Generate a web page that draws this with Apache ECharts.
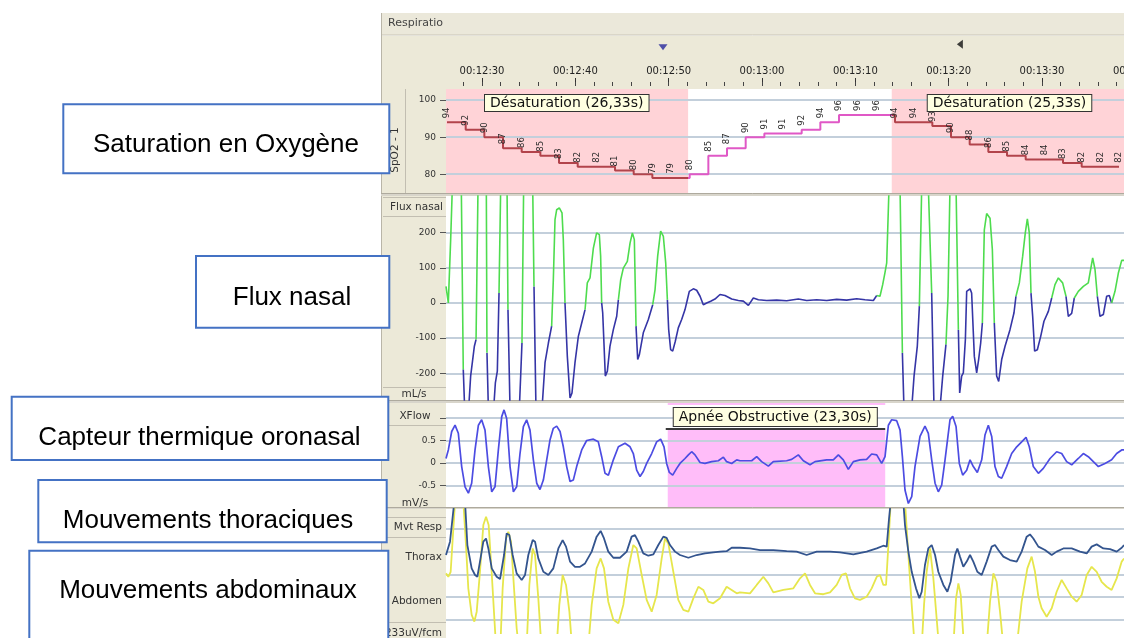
<!DOCTYPE html>
<html>
<head>
<meta charset="utf-8">
<script src="https://cdn.jsdelivr.net/npm/echarts@6/dist/echarts.min.js"></script>
<style>
  html, body { margin: 0; padding: 0; background: #ffffff; }
  #chart { width: 1124px; height: 638px; }
</style>
</head>
<body>
<div id="chart"></div>
<script>
// ---------------------------------------------------------------
// Recording window (seconds since 00:00:00)
// ---------------------------------------------------------------
const timeStart = 746.14;
const timeEnd = 822.0;
const rulerTicks = [750, 760, 770, 780, 790, 800, 810, 820];
const markerTimes = [769.39, 801.2];

// SpO2 samples (%), one reading every 2 s
const spo2Times = [746.25, 748.25, 750.25, 752.25, 754.25, 756.25, 758.25, 760.25, 762.25, 764.25,
  766.25, 768.25, 770.25, 772.25, 774.25, 776.25, 778.25, 780.25, 782.25, 784.25,
  786.25, 788.25, 790.25, 792.25, 794.25, 796.25, 798.25, 800.25, 802.25, 804.25,
  806.25, 808.25, 810.25, 812.25, 814.25, 816.25, 818.25];
const spo2Values = [94, 92, 90, 87, 86, 85, 83, 82, 82, 81,
  80, 79, 79, 80, 85, 87, 90, 91, 91, 92,
  94, 96, 96, 96, 94, 94, 93, 90, 88, 86,
  85, 84, 84, 83, 82, 82, 82];
const spo2Ticks = [80, 90, 100];

// Scored events
const desatStart = [745.75, 793.9];
const desatDuration = [26.33, 25.33];
const apneaStart = 769.9;
const apneaDuration = 23.30;

// Nasal flow (mL/s): [time, value, phase]  phase g = inspiration, b = expiration
const fluxBreathsBefore = [
  [746.14, 47, 'g'], [746.39, 0, 'g'], [746.64, 180, 'g'], [746.82, 330, 'g'], [747.28, 420, 'g'], [747.78, 330, 'g'],
  [747.99, -189, 'b'], [748.14, -300, 'b'], [748.36, -380, 'b'], [748.57, -300, 'b'], [748.78, -208, 'b'], [749.18, -123, 'b'],
  [749.36, -104, 'g'], [749.57, 330, 'g'], [750.03, 420, 'g'], [750.46, 330, 'g'],
  [750.53, -142, 'b'], [750.68, -300, 'b'], [750.96, -380, 'b'], [751.25, -300, 'b'], [751.43, -227, 'b'], [751.64, -194, 'b'],
  [751.82, 28, 'g'], [752.0, 330, 'g'], [752.36, 420, 'g'], [752.68, 330, 'g'],
  [752.78, -19, 'b'], [753.0, -300, 'b'], [753.54, -380, 'b'], [754.0, -300, 'b'], [754.14, -208, 'b'],
  [754.28, -114, 'g'], [754.46, 330, 'g'], [754.96, 420, 'g'], [755.43, 330, 'g'],
  [755.57, 47, 'b'], [755.78, -300, 'b'], [756.1, -380, 'b'], [756.43, -300, 'b'], [756.75, -170, 'b'], [757.11, -114, 'b'],
  [757.46, -66, 'g'], [757.64, 66, 'g'], [757.82, 237, 'g'], [758.0, 265, 'g'], [758.28, 270, 'g'], [758.57, 256, 'g'], [758.71, 180, 'g'],
  [758.89, 0, 'b'], [759.14, -152, 'b'], [759.43, -270, 'b'], [759.64, -256, 'b'], [759.96, -170, 'b'], [760.32, -95, 'b'], [760.68, -57, 'b'],
  [761.04, -19, 'g'], [761.28, 57, 'g'], [761.57, 71, 'g'], [761.93, 156, 'g'], [762.28, 199, 'g'], [762.57, 194, 'g'], [762.71, 133, 'g'],
  [762.82, 0, 'b'], [762.93, -28, 'b'], [763.21, -208, 'b'], [763.43, -194, 'b'], [763.71, -123, 'b'], [764.07, -76, 'b'], [764.43, -38, 'b'],
  [764.61, 9, 'g'], [764.86, 66, 'g'], [765.14, 99, 'g'], [765.57, 118, 'g'], [765.86, 170, 'g'], [766.11, 199, 'g'], [766.32, 180, 'g'],
  [766.5, -66, 'b'], [766.68, -161, 'b'], [766.86, -147, 'b'], [767.28, -85, 'b'], [767.82, -47, 'b'],
  [768.29, -5, 'g'], [768.54, 38, 'g'], [768.82, 133, 'g'], [769.14, 204, 'g'], [769.43, 189, 'g'], [769.68, 114, 'g'],
  [769.86, 9, 'b'], [770.0, -76, 'b'], [770.21, -133, 'b'], [770.43, -137, 'b'], [770.71, -109, 'b'], [771.03, -71, 'b'],
  [771.39, -47, 'b'], [771.75, -19, 'b'], [772.0, 9, 'b']
];
const fluxApnea = [
  [772.21, 33, 'b'], [772.64, 40, 'b'], [773.0, 36, 'b'], [773.36, 19, 'b'], [773.71, -5, 'b'], [774.07, 0, 'b'],
  [774.5, 5, 'b'], [774.96, 11, 'b'], [775.5, 24, 'b'], [776.03, 21, 'b'], [776.75, 11, 'b'], [777.46, 7, 'b'],
  [778.0, 5, 'b'], [778.54, -7, 'b'], [779.07, 14, 'b'], [779.61, 9, 'b'], [780.5, 7, 'b'], [781.57, 8, 'b'],
  [782.64, 6, 'b'], [783.89, 11, 'b'], [784.79, 7, 'b'], [785.86, 9, 'b'], [786.93, 7, 'b'], [788.0, 10, 'b'],
  [789.07, 8, 'b'], [790.14, 12, 'b'], [791.04, 9, 'b'], [791.93, 7, 'b']
];
const fluxBreathsAfter = [
  [792.29, 21, 'g'], [792.64, 19, 'g'], [792.93, 52, 'g'], [793.18, 87, 'g'], [793.36, 114, 'g'], [793.61, 330, 'g'], [794.18, 420, 'g'], [794.79, 330, 'g'],
  [795.04, -142, 'b'], [795.21, -300, 'b'], [795.61, -380, 'b'], [796.04, -300, 'b'], [796.29, -208, 'b'], [796.64, -123, 'b'],
  [796.86, -9, 'g'], [797.11, 330, 'g'], [797.46, 420, 'g'], [797.82, 330, 'g'],
  [798.18, 28, 'b'], [798.43, -300, 'b'], [798.75, -380, 'b'], [799.07, -300, 'b'], [799.36, -208, 'b'],
  [799.71, -118, 'g'], [799.93, 19, 'g'], [800.14, 330, 'g'], [800.46, 420, 'g'], [800.79, 330, 'g'],
  [801.04, -76, 'b'], [801.18, -256, 'b'], [801.39, -208, 'b'], [801.57, -199, 'b'], [801.79, -104, 'b'], [801.93, 33, 'b'],
  [802.29, 40, 'b'], [802.46, 28, 'b'], [802.75, -152, 'b'], [803.0, -199, 'b'], [803.21, -161, 'b'], [803.43, -114, 'b'],
  [803.61, -57, 'g'], [803.82, 208, 'g'], [804.07, 254, 'g'], [804.43, 241, 'g'], [804.68, 152, 'g'],
  [804.89, -57, 'b'], [805.14, -208, 'b'], [805.36, -223, 'b'], [805.68, -161, 'b'], [806.04, -123, 'b'], [806.57, -76, 'b'], [807.0, -28, 'b'],
  [807.21, 19, 'g'], [807.57, 57, 'g'], [807.93, 133, 'g'], [808.21, 199, 'g'], [808.43, 239, 'g'], [808.64, 199, 'g'],
  [808.82, 28, 'b'], [809.0, -38, 'b'], [809.21, -137, 'b'], [809.5, -133, 'b'], [809.86, -95, 'b'], [810.21, -52, 'b'], [810.68, -24, 'b'],
  [811.04, 14, 'g'], [811.39, 52, 'g'], [811.75, 71, 'g'], [812.21, 57, 'g'],
  [812.57, 19, 'b'], [812.82, -38, 'b'], [813.18, -30, 'b'],
  [813.46, 14, 'g'], [813.89, 33, 'g'], [814.43, 47, 'g'], [814.96, 57, 'g'], [815.21, 95, 'g'], [815.43, 128, 'g'], [815.68, 95, 'g'],
  [815.93, 19, 'b'], [816.21, -38, 'b'], [816.57, -33, 'b'], [816.93, 19, 'b'], [817.21, 21, 'b'],
  [817.46, 0, 'g'], [817.82, 33, 'g'], [818.18, 85, 'g'], [818.54, 121, 'g'], [818.79, 121, 'g']
];
const fluxTicks = [-200, -100, 0, 100, 200];

// Oronasal thermal sensor (mV/s)
const xflowTrace = [
  [746.14, 0.10], [746.39, 0.29], [746.75, 0.70], [747.11, 0.84], [747.46, 0.66], [747.82, -0.08], [748.18, -0.53], [748.54, -0.67],
  [748.89, -0.45], [749.25, 0.29], [749.61, 0.84], [749.96, 0.96], [750.32, 0.73], [750.68, -0.08], [751.04, -0.64], [751.39, -0.53],
  [751.75, 0.29], [752.11, 1.03], [752.36, 1.18], [752.64, 0.99], [753.0, -0.08], [753.36, -0.64], [753.71, -0.53], [754.07, 0.21],
  [754.43, 0.81], [754.78, 0.96], [755.14, 0.73], [755.5, 0.07], [755.86, -0.45], [756.21, -0.59], [756.57, -0.38], [756.93, 0.07],
  [757.28, 0.51], [757.64, 0.77], [758.0, 0.82], [758.36, 0.70], [758.71, 0.36], [759.07, -0.08], [759.43, -0.41], [759.78, -0.38],
  [760.14, -0.08], [760.68, 0.29], [761.21, 0.50], [761.93, 0.53], [762.46, 0.47], [762.82, 0.14], [763.18, -0.23], [763.54, -0.27],
  [764.07, 0.07], [764.61, 0.36], [765.32, 0.44], [765.86, 0.36], [766.21, 0.21], [766.57, -0.16], [766.93, -0.30], [767.28, -0.19],
  [767.64, -0.01], [768.18, 0.21], [768.71, 0.47], [769.14, 0.53], [769.5, 0.36], [769.78, -0.01], [770.07, -0.21], [770.43, -0.27],
  [770.86, -0.12], [771.21, -0.01], [771.75, 0.10], [772.11, 0.18], [772.46, 0.25], [772.82, 0.18], [773.36, 0.01], [773.89, -0.01],
  [774.61, 0.03], [775.32, 0.05], [775.86, 0.13], [776.21, 0.03], [776.75, -0.01], [777.29, 0.07], [777.64, 0.05], [778.36, 0.05],
  [778.89, 0.05], [779.43, 0.14], [779.96, 0.03], [780.68, -0.07], [781.21, 0.03], [782.64, 0.05], [783.18, 0.08], [783.89, 0.18],
  [784.43, 0.05], [785.14, -0.04], [785.68, 0.03], [786.93, 0.07], [787.64, 0.07], [788.18, 0.18], [788.71, 0.07], [789.25, -0.14],
  [789.79, 0.03], [790.5, 0.07], [791.21, 0.08], [791.75, 0.20], [792.29, 0.18], [792.82, -0.01], [793.18, 0.14], [793.54, 0.84],
  [793.89, 0.96], [794.43, 0.94], [794.79, 0.73], [795.04, 0.14], [795.32, -0.60], [795.68, -0.90], [796.04, -0.75], [796.39, -0.08],
  [796.93, 0.59], [797.46, 0.82], [797.82, 0.66], [798.18, 0.07], [798.54, -0.45], [798.89, -0.64], [799.25, -0.49], [799.61, 0.07],
  [800.14, 0.96], [800.43, 1.04], [800.79, 0.81], [801.14, -0.01], [801.5, -0.27], [801.93, -0.16], [802.29, 0.07], [802.64, -0.08],
  [803.07, -0.21], [803.54, 0.07], [803.89, 0.62], [804.25, 0.84], [804.61, 0.59], [804.96, -0.08], [805.32, -0.30], [805.68, -0.34],
  [806.21, -0.08], [806.75, 0.21], [807.29, 0.36], [807.82, 0.47], [808.29, 0.57], [808.64, 0.36], [809.07, -0.08], [809.61, -0.23],
  [810.14, -0.12], [810.86, 0.10], [811.57, 0.25], [812.11, 0.21], [812.64, 0.03], [813.18, -0.04], [813.89, 0.10], [814.43, 0.21],
  [814.96, 0.14], [815.5, 0.03], [816.04, -0.08], [816.75, -0.01], [817.46, 0.07], [818.0, 0.21], [818.54, 0.29], [818.79, 0.29]
];
const xflowTicks = [-0.5, 0, 0.5, 1];
const xflowLabels = [-0.5, 0, 0.5];

// Respiratory effort belts (display units, one unit per grid row)
const thoraxTrace = [
  [746.14, 2.85], [746.57, 3.44], [747.03, 5.2], [747.64, 5.6], [748.18, 5.2], [748.43, 3.29], [748.89, 2.26], [749.25, 1.97],
  [749.5, 1.89], [749.78, 2.56], [750.14, 3.44], [750.43, 3.58], [750.68, 3.14], [751.04, 2.26], [751.57, 1.89], [751.93, 1.79],
  [752.36, 2.85], [752.64, 3.80], [752.93, 3.73], [753.28, 2.85], [753.71, 2.04], [754.25, 1.75], [754.61, 1.97], [754.96, 2.85],
  [755.43, 3.51], [755.68, 3.44], [756.03, 2.70], [756.57, 2.11], [757.11, 1.97], [757.64, 2.26], [758.18, 3.14], [758.64, 3.51],
  [759.0, 3.22], [759.43, 2.56], [759.96, 2.33], [760.5, 2.33], [761.04, 2.48], [761.75, 3.0], [762.28, 3.66], [762.71, 3.91],
  [763.07, 3.58], [763.53, 3.0], [764.07, 2.73], [764.78, 2.73], [765.5, 3.0], [766.03, 3.66], [766.39, 3.73], [766.75, 3.44],
  [767.28, 2.92], [767.82, 2.82], [768.36, 2.88], [768.89, 3.29], [769.43, 3.66], [769.78, 3.61], [770.14, 3.29], [770.68, 3.0],
  [771.21, 2.85], [772.11, 2.73], [773.0, 2.85], [773.89, 2.92], [774.78, 2.97], [775.5, 3.0], [776.21, 3.02], [776.75, 3.17],
  [777.64, 3.17], [778.71, 3.14], [779.79, 3.07], [781.21, 3.07], [782.64, 3.02], [783.71, 3.0], [784.78, 2.85], [785.86, 3.0],
  [787.29, 3.0], [788.36, 2.97], [789.79, 2.88], [791.21, 3.0], [792.29, 3.14], [793.0, 3.26], [793.36, 3.22], [793.61, 4.46],
  [793.79, 5.2], [794.43, 5.6], [795.14, 5.2], [795.32, 4.17], [795.68, 3.0], [796.04, 2.11], [796.5, 1.38], [796.86, 0.94],
  [797.11, 1.23], [797.46, 2.41], [797.82, 3.14], [798.18, 3.29], [798.54, 2.85], [798.89, 2.11], [799.43, 1.53], [799.86, 1.23],
  [800.21, 1.67], [800.68, 2.85], [800.93, 3.14], [801.21, 2.78], [801.57, 2.33], [801.93, 2.56], [802.29, 2.85], [802.64, 2.56],
  [803.07, 2.11], [803.54, 1.97], [804.07, 2.56], [804.61, 3.22], [804.96, 3.29], [805.32, 3.07], [805.86, 2.78], [806.57, 2.63],
  [807.29, 2.56], [807.82, 3.0], [808.36, 3.66], [808.71, 3.76], [809.07, 3.58], [809.61, 3.22], [810.32, 3.07], [811.04, 2.85],
  [811.57, 3.0], [812.29, 3.14], [813.18, 3.14], [814.07, 3.0], [814.79, 2.92], [815.32, 3.22], [815.86, 3.32], [816.57, 3.14],
  [817.29, 3.11], [818.0, 3.0], [818.54, 3.17], [818.79, 3.29]
];
const abdomenTrace = [
  [746.14, 2.04], [746.39, 1.89], [746.64, 2.11], [746.86, 3.58], [747.11, 5.2], [747.57, 5.6], [748.0, 5.2], [748.28, 3.29],
  [748.53, 1.38], [748.89, 0.21], [749.18, -0.09], [749.43, 0.35], [749.78, 2.11], [750.14, 4.17], [750.43, 4.54], [750.71, 4.17],
  [751.03, 2.11], [751.32, 0.06], [751.5, -1.2], [751.71, -1.8], [751.96, -1.2], [752.21, 1.38], [752.57, 3.58], [752.82, 3.88],
  [753.11, 3.44], [753.43, 1.38], [753.71, -0.38], [753.93, -1.2], [754.36, -1.8], [754.78, -1.2], [755.07, 1.53], [755.43, 3.14],
  [755.68, 2.85], [756.03, 0.94], [756.36, -1.2], [757.18, -1.8], [758.0, -1.2], [758.28, 0.65], [758.64, 1.97], [759.0, 1.53],
  [759.36, 0.35], [759.64, -1.2], [760.5, -1.8], [761.39, -1.2], [761.75, 0.65], [762.28, 2.26], [762.71, 2.70], [763.07, 2.26],
  [763.53, 0.79], [764.07, -0.01], [764.61, -0.16], [765.14, 0.65], [765.68, 2.26], [766.21, 3.29], [766.57, 3.14], [767.11, 1.97],
  [767.64, 0.87], [768.18, 0.35], [768.71, 1.09], [769.25, 2.70], [769.61, 3.58], [769.96, 3.36], [770.5, 2.11], [771.03, 0.87],
  [771.57, 0.43], [772.11, 0.35], [772.64, 0.94], [773.18, 1.45], [773.71, 1.31], [774.25, 0.79], [774.78, 0.72], [775.5, 0.94],
  [776.21, 1.45], [776.75, 1.31], [777.29, 1.16], [777.64, 1.20], [778.71, 1.16], [779.43, 1.53], [780.14, 1.89], [780.68, 1.60],
  [781.21, 1.20], [782.29, 1.31], [783.36, 1.38], [784.07, 1.82], [784.61, 2.04], [785.14, 1.53], [785.68, 1.16], [786.57, 1.12],
  [787.29, 1.20], [788.0, 1.53], [788.54, 1.97], [789.0, 2.04], [789.43, 1.38], [789.96, 0.94], [790.5, 0.87], [791.21, 1.01],
  [791.75, 1.38], [792.29, 1.89], [792.64, 1.97], [793.0, 1.53], [793.29, 1.53], [793.54, 3.29], [793.79, 5.2], [794.54, 5.6],
  [795.32, 5.2], [795.68, 2.85], [796.04, 0.65], [796.36, -1.2], [796.75, -1.8], [797.11, -1.2], [797.36, 0.65], [797.64, 2.11],
  [798.0, 3.14], [798.36, 1.82], [798.71, 0.06], [798.96, -1.2], [799.71, -1.8], [800.5, -1.2], [800.79, 0.94], [801.04, 1.60],
  [801.29, 1.09], [801.64, -1.2], [802.82, -1.8], [804.07, -1.2], [804.43, 0.79], [804.79, 2.04], [805.14, 1.67], [805.5, 0.35],
  [805.86, -1.2], [806.57, -1.8], [807.29, -1.2], [807.82, 0.79], [808.43, 2.26], [808.89, 2.78], [809.25, 2.11], [809.61, 1.01],
  [809.96, 0.50], [810.5, 0.13], [811.04, 0.50], [811.57, 1.23], [812.11, 1.75], [812.64, 1.38], [813.18, 1.01], [813.71, 0.79],
  [814.25, 1.09], [814.79, 1.97], [815.32, 2.33], [815.86, 2.11], [816.39, 1.67], [816.93, 1.45], [817.46, 1.31], [818.0, 1.82],
  [818.54, 2.56], [818.79, 2.70]
];
const respTicks = [0, 1, 2, 3, 4];

// ---------------------------------------------------------------
// Helpers
// ---------------------------------------------------------------
const uiFont = '"DejaVu Sans", Verdana, sans-serif';
const boxFont = '26px "Liberation Sans", Arial, sans-serif';

function clock(t) {
  const s = Math.round(t);
  const parts = [Math.floor(s / 3600), Math.floor((s % 3600) / 60), s % 60];
  return parts.map(n => String(n).padStart(2, '0')).join(':');
}

// splits a phase-tagged trace into runs of one phase, separated by gaps
function tracePhase(points, phase) {
  const out = [];
  for (let i = 0; i < points.length - 1; i++) {
    if (points[i][2] !== phase) continue;
    const continuing = i > 0 && points[i - 1][2] === phase;
    if (!continuing) {
      if (out.length) out.push([points[i][0], null]);
      out.push([points[i][0], points[i][1]]);
    }
    out.push([points[i + 1][0], points[i + 1][1]]);
  }
  return out;
}

const fluxTrace = fluxBreathsBefore.concat(fluxApnea, fluxBreathsAfter);

const minorRuler = [];
for (let t = 746; t <= 822; t += 2) minorRuler.push(t);

// SpO2 colouring: dark red inside desaturation events, magenta elsewhere
const spo2Normal = '#e058c6';
const spo2Desat = '#b2434b';
const spo2Pieces = [];
desatStart.forEach((s, i) => {
  const e = s + desatDuration[i];
  if (i === 0) spo2Pieces.push({ lt: s, color: spo2Normal });
  else spo2Pieces.push({ gte: desatStart[i - 1] + desatDuration[i - 1], lt: s, color: spo2Normal });
  spo2Pieces.push({ gte: s, lt: e, color: spo2Desat });
});
spo2Pieces.push({ gte: desatStart[desatStart.length - 1] + desatDuration[desatDuration.length - 1], color: spo2Normal });

// ---------------------------------------------------------------
// Panels (the time strip runs on past the right edge of the view)
// ---------------------------------------------------------------
const plotLeft = 446, plotWidth = 708;
const panelGrid = (top, height) => ({ left: plotLeft, width: plotWidth, top, height, outerBoundsMode: 'none', containLabel: false });
const grids = [
  panelGrid(35, 51),   // 0 time ruler (major)
  panelGrid(89, 104),  // 1 SpO2
  panelGrid(196, 204), // 2 nasal flow
  panelGrid(403, 104), // 3 thermal sensor
  panelGrid(509, 124), // 4 belts
  panelGrid(35, 51)    // 5 time ruler (minor)
];

const spo2Range = [74.93, 103];
const fluxRange = [-276, 304];
const xflowRange = [-0.978, 1.333];
const respRange = [-0.59, 4.88];

function timeAxis(gi, extra) {
  return Object.assign({ type: 'value', gridIndex: gi, min: timeStart, max: timeEnd, show: false }, extra || {});
}
function panelY(gi, range, ticks, labels, showTicks) {
  return {
    type: 'value', gridIndex: gi, min: range[0], max: range[1], z: 1.5,
    axisLine: { show: false },
    axisTick: { show: showTicks, customValues: ticks, length: 6, lineStyle: { color: '#555' } },
    axisLabel: {
      show: labels.length > 0, customValues: labels, margin: 10,
      fontSize: 9, fontFamily: uiFont, color: '#333'
    },
    splitLine: { show: true, lineStyle: { color: '#c3cfdb', width: 2 } }
  };
}

const option = {
  animation: false,
  backgroundColor: '#ffffff',
  grid: grids,
  xAxis: [
    timeAxis(0, {
      show: true, position: 'bottom', z: 5,
      axisLine: { show: false },
      axisTick: { show: true, inside: true, length: 8, customValues: rulerTicks, lineStyle: { color: '#333' } },
      axisLabel: { show: true, inside: true, margin: 10, customValues: rulerTicks, formatter: v => clock(v),
        fontSize: 10, fontFamily: uiFont, color: '#222', hideOverlap: false },
      splitLine: { show: false }
    }),
    timeAxis(1), timeAxis(2), timeAxis(3), timeAxis(4),
    timeAxis(5, {
      show: true, position: 'bottom', z: 5,
      axisLine: { show: false },
      axisTick: { show: true, inside: true, length: 4, customValues: minorRuler, lineStyle: { color: '#444' } },
      axisLabel: { show: false },
      splitLine: { show: false }
    })
  ],
  yAxis: [
    { type: 'value', gridIndex: 0, min: 0, max: 1, show: false },
    panelY(1, spo2Range, spo2Ticks, spo2Ticks, true),
    panelY(2, fluxRange, fluxTicks, fluxTicks, true),
    panelY(3, xflowRange, xflowTicks, xflowLabels, true),
    panelY(4, respRange, respTicks, [], false),
    { type: 'value', gridIndex: 5, min: 0, max: 1, show: false }
  ],
  visualMap: [{
    type: 'piecewise', show: false, seriesIndex: 1, dimension: 0, pieces: spo2Pieces
  }],
  series: [
    {
      type: 'scatter', name: 'Repères', xAxisIndex: 0, yAxisIndex: 0, silent: true, z: 6,
      data: markerTimes.map((t, i) => ({
        value: [t, i === 0 ? 0.76 : 0.82],
        symbol: 'triangle',
        symbolRotate: i === 0 ? 180 : 90,
        symbolSize: [9, 6],
        itemStyle: { color: i === 0 ? '#27279c' : '#111111' }
      }))
    },
    {
      type: 'line', name: 'SpO2', xAxisIndex: 1, yAxisIndex: 1, step: 'end', z: 2,
      data: spo2Times.map((t, i) => [t, spo2Values[i]]),
      symbol: 'circle', symbolSize: 0.1, showSymbol: true, showAllSymbol: true,
      lineStyle: { width: 2 },
      label: {
        show: true, position: 'top', distance: 4, rotate: 90, align: 'left', verticalAlign: 'middle',
        fontSize: 8.5, fontFamily: uiFont, color: '#2a2a2a',
        formatter: p => String(p.value[1])
      },
      markArea: {
        silent: true,
        itemStyle: { color: '#ffd3d7' },
        data: desatStart.map((s, i) => [{ xAxis: Math.max(s, timeStart) }, { xAxis: s + desatDuration[i] }])
      }
    },
    {
      type: 'line', name: 'Flux nasal expiration', xAxisIndex: 2, yAxisIndex: 2, z: 2,
      data: tracePhase(fluxTrace, 'b'), showSymbol: false, connectNulls: false,
      lineStyle: { color: '#3535a6', width: 1.6 }
    },
    {
      type: 'line', name: 'Flux nasal inspiration', xAxisIndex: 2, yAxisIndex: 2, z: 2,
      data: tracePhase(fluxTrace, 'g'), showSymbol: false, connectNulls: false,
      lineStyle: { color: '#4edc4e', width: 1.6 }
    },
    {
      type: 'line', name: 'XFlow', xAxisIndex: 3, yAxisIndex: 3, z: 2,
      data: xflowTrace, showSymbol: false,
      lineStyle: { color: '#4c4ce2', width: 1.7 },
      markArea: {
        silent: true,
        itemStyle: { color: '#ffbdf9' },
        data: [
          [{ xAxis: apneaStart, yAxis: 0.756 }, { xAxis: apneaStart + apneaDuration, yAxis: xflowRange[0] }],
          [{ xAxis: apneaStart, yAxis: xflowRange[1] }, { xAxis: apneaStart + apneaDuration, yAxis: xflowRange[1] - 0.045 }]
        ]
      }
    },
    {
      type: 'line', name: 'Abdomen', xAxisIndex: 4, yAxisIndex: 4, z: 2,
      data: abdomenTrace, showSymbol: false,
      lineStyle: { color: '#e6e64c', width: 1.8 }
    },
    {
      type: 'line', name: 'Thorax', xAxisIndex: 4, yAxisIndex: 4, z: 2,
      data: thoraxTrace, showSymbol: false,
      lineStyle: { color: '#33548e', width: 1.8 }
    }
  ]
};

const chart = echarts.init(document.getElementById('chart'), null, { renderer: 'canvas' });
chart.setOption(option);

// ---------------------------------------------------------------
// Window chrome, channel captions and event labels
// ---------------------------------------------------------------
const px = t => chart.convertToPixel({ xAxisIndex: 1 }, t);
const beige = '#ece9d8';
const els = [];

// header strip and time ruler
els.push({ type: 'rect', z: -10, shape: { x: 381, y: 13, width: 743, height: 22 }, style: { fill: '#ebe8da' } });
els.push({ type: 'line', z: -9, shape: { x1: 381, y1: 35, x2: 1124, y2: 35 }, style: { stroke: '#c9c5b6', lineWidth: 1 } });
els.push({ type: 'rect', z: -10, shape: { x: 381, y: 36, width: 743, height: 53 }, style: { fill: beige } });
els.push({ type: 'text', z: 10, x: 388, y: 23, style: {
  text: 'Respiration', width: 59, overflow: 'truncate', ellipsis: '',
  font: '11px ' + uiFont, fill: '#444', verticalAlign: 'middle' } });

// channel column
els.push({ type: 'rect', z: -10, shape: { x: 381, y: 89, width: 65, height: 549 }, style: { fill: beige } });
els.push({ type: 'line', z: -9, shape: { x1: 381.5, y1: 13, x2: 381.5, y2: 638 }, style: { stroke: '#b9b5a8', lineWidth: 1 } });

// panel separators
[[193, 3], [400, 3], [507, 2]].forEach(([y, h]) => {
  els.push({ type: 'rect', z: -8, shape: { x: 381, y: y, width: 743, height: h }, style: { fill: '#d8d5cb' } });
  els.push({ type: 'line', z: -7, shape: { x1: 381, y1: y + 0.5, x2: 1124, y2: y + 0.5 }, style: { stroke: '#aeaa9e', lineWidth: 1 } });
});

// column cells
const cellLine = (x1, y1, x2, y2) => ({ type: 'line', z: -7, shape: { x1, y1, x2, y2 }, style: { stroke: '#c2beb1', lineWidth: 1 } });
els.push(cellLine(405.5, 89, 405.5, 193));
els.push(cellLine(383, 197.5, 446, 197.5), cellLine(383, 216.5, 446, 216.5), cellLine(383, 387.5, 446, 387.5));
els.push(cellLine(383, 425.5, 446, 425.5));
els.push(cellLine(383, 517.5, 446, 517.5), cellLine(383, 537.5, 446, 537.5), cellLine(383, 622.5, 446, 622.5));

const caption = (text, x, y, align, extra) => Object.assign({
  type: 'text', z: 10, x, y,
  style: { text, font: '10.5px ' + uiFont, fill: '#333', align, verticalAlign: 'middle' }
}, extra || {});
els.push(caption('SpO2 - 1', 395, 150, 'center', { rotation: Math.PI / 2 }));
els.push(caption('Flux nasal', 443, 207, 'right'));
els.push(caption('mL/s', 414, 394, 'center'));
els.push(caption('XFlow', 415, 416, 'center'));
els.push(caption('mV/s', 415, 503, 'center'));
els.push(caption('Mvt Resp', 442, 527, 'right'));
els.push(caption('Thorax', 442, 557, 'right'));
els.push(caption('Abdomen', 442, 601, 'right'));
els.push(caption('233uV/fcm', 442, 633, 'right'));

// scored event labels
const fmtDur = d => d.toFixed(2).replace('.', ',') + 's';
desatStart.forEach((s, i) => {
  els.push({ type: 'text', z: 20, x: Math.max(px(s) + 36, plotLeft + 39), y: 95, style: {
    text: 'Désaturation (' + fmtDur(desatDuration[i]) + ')',
    font: '14px ' + uiFont, fill: '#111', lineHeight: 15,
    backgroundColor: '#ffffe1', borderColor: '#333', borderWidth: 1, padding: [1, 5, 0, 5]
  } });
});
els.push({ type: 'line', z: 19, shape: { x1: px(apneaStart) - 2, y1: 429, x2: px(apneaStart + apneaDuration), y2: 429 },
  style: { stroke: '#3a3a3a', lineWidth: 2 } });
els.push({ type: 'text', z: 20, x: px(apneaStart) + 6, y: 408, style: {
  text: 'Apnée Obstructive (' + fmtDur(apneaDuration) + ')',
  font: '14px ' + uiFont, fill: '#111', lineHeight: 16,
  backgroundColor: '#ffffe1', borderColor: '#333', borderWidth: 1, padding: [1, 5, 1, 5]
} });

// annotation boxes naming each channel
const boxes = [
  { text: 'Saturation en Oxygène', rect: [63.3, 104.3, 326, 69], tx: 226, ty: 145 },
  { text: 'Flux nasal', rect: [196, 256, 193.3, 71.7], tx: 292, ty: 298 },
  { text: 'Capteur thermique oronasal', rect: [11.7, 396.7, 376.6, 63.3], tx: 199.5, ty: 438 },
  { text: 'Mouvements thoraciques', rect: [38.3, 480, 348.4, 62.3], tx: 208, ty: 521 },
  { text: 'Mouvements abdominaux', rect: [29.3, 550.7, 359, 100], tx: 208, ty: 591 }
];
boxes.forEach(b => {
  els.push({ type: 'rect', z: 30, shape: { x: b.rect[0], y: b.rect[1], width: b.rect[2], height: b.rect[3] },
    style: { fill: '#ffffff', stroke: '#4472c4', lineWidth: 2 } });
  els.push({ type: 'text', z: 31, x: b.tx, y: b.ty,
    style: { text: b.text, font: boxFont, fill: '#000', align: 'center', verticalAlign: 'middle' } });
});

chart.setOption({ graphic: { elements: els } });
</script>
</body>
</html>
